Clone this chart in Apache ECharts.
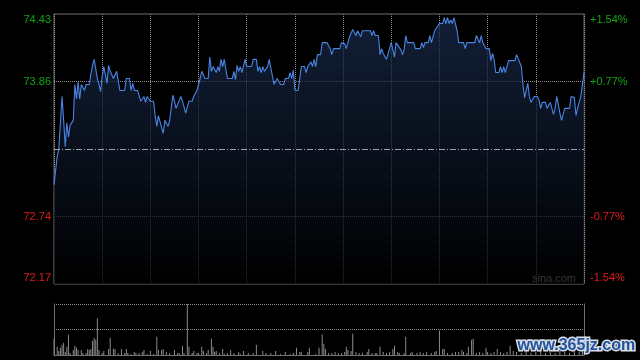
<!DOCTYPE html>
<html>
<head>
<meta charset="utf-8">
<script src="https://cdn.jsdelivr.net/npm/echarts@6/dist/echarts.min.js"></script>
<style>html,body{margin:0;padding:0;background:#000;}#c{width:640px;height:360px;}</style>
</head>
<body>
<div id="c"></div>
<script>
// minute index (0..330, HK session) and price
var priceTimes = [0,2,3,4,5,6,7,8,9,10,11,12,13,14,15,16,17,18,19,20,22,23,24,25,26,27,28,29,30,31,32,33,34,35,36,37,38,39,40,41,44,45,47,48,49,50,52,54,56,57,58,60,62,63,64,65,66,68,69,70,71,72,73,74,75,76,77,79,80,82,84,86,87,88,89,90,91,92,93,94,96,97,98,99,100,101,102,103,104,105,106,108,111,112,113,114,115,116,117,118,119,120,123,124,126,127,128,129,130,131,133,134,135,137,138,139,141,143,144,146,147,148,149,150,152,154,156,157,158,160,161,162,163,164,166,167,170,172,173,174,178,179,181,182,184,185,186,187,188,189,191,192,197,198,199,200,202,203,204,205,207,208,210,211,212,213,214,216,217,218,219,220,224,225,228,229,230,231,233,234,235,236,237,238,240,242,243,244,245,246,247,248,249,251,252,255,256,257,262,263,264,265,266,267,268,269,271,272,273,274,275,277,278,279,280,281,283,287,288,289,291,292,293,294,295,296,297,298,299,301,302,303,304,306,307,308,309,310,311,312,313,314,315,316,317,318,321,322,324,325,326,327,328,330];
var prices = [73.00,73.24,73.30,73.30,73.74,73.54,73.32,73.52,73.40,73.50,73.49,73.54,73.84,73.72,73.86,73.72,73.84,73.84,73.79,73.84,73.84,73.93,74.00,74.05,74.05,73.89,73.84,73.78,73.91,73.99,73.99,73.85,74.00,73.95,73.95,73.89,73.89,73.95,73.95,73.79,73.79,73.89,73.89,73.79,73.85,73.79,73.79,73.70,73.74,73.69,73.74,73.70,73.70,73.58,73.49,73.58,73.59,73.43,73.54,73.54,73.49,73.54,73.55,73.75,73.70,73.64,73.64,73.74,73.70,73.60,73.70,73.70,73.74,73.74,73.79,73.80,73.89,73.95,73.94,73.89,73.89,74.07,73.95,73.99,73.99,73.94,73.99,73.95,74.05,73.99,74.05,73.89,73.89,73.95,73.88,74.00,73.95,73.99,73.94,73.95,74.05,73.99,73.99,74.05,74.05,73.95,73.99,73.94,73.99,73.95,73.99,74.05,73.98,73.84,73.84,73.89,73.84,73.84,73.89,73.89,73.94,73.89,73.96,73.79,73.79,73.99,73.99,73.94,73.99,74.03,73.99,74.05,73.99,74.09,74.09,74.19,74.19,74.14,74.09,74.14,74.14,74.19,74.18,74.14,74.24,74.25,74.30,74.29,74.25,74.29,74.24,74.29,74.29,74.25,74.29,74.25,74.25,74.09,74.14,74.10,74.05,74.05,74.19,74.19,74.07,74.19,74.18,74.13,74.09,74.13,74.25,74.19,74.19,74.14,74.14,74.19,74.15,74.19,74.19,74.25,74.19,74.24,74.29,74.29,74.35,74.35,74.40,74.35,74.40,74.35,74.38,74.35,74.40,74.29,74.19,74.19,74.14,74.19,74.19,74.25,74.25,74.19,74.25,74.19,74.19,74.14,74.14,74.04,74.10,74.05,73.94,73.94,73.99,73.94,73.99,73.94,74.04,74.04,74.09,74.09,73.99,73.84,73.73,73.79,73.85,73.74,73.69,73.69,73.74,73.74,73.71,73.64,73.69,73.69,73.64,73.64,73.69,73.64,73.59,73.64,73.74,73.74,73.60,73.54,73.59,73.64,73.64,73.74,73.73,73.58,73.64,73.64,73.74,73.94];
var preClose = 73.30;
var priceMin = 72.17, priceMax = 74.43;

var volTimes = [0,2,3,4,5,6,7,8,9,10,12,13,14,15,17,18,20,21,22,23,24,25,26,27,28,30,31,34,35,37,38,40,42,44,45,46,48,50,51,53,55,56,58,60,62,64,65,67,68,70,72,75,77,78,80,81,83,84,86,87,89,90,92,93,95,96,98,99,100,101,103,105,106,108,110,112,115,116,118,121,124,126,130,132,135,138,141,144,147,149,151,153,154,158,159,163,165,167,168,169,171,173,175,177,179,181,182,183,185,186,188,190,192,195,196,198,200,201,203,205,207,209,211,212,214,215,218,219,222,223,226,228,230,232,235,237,238,240,242,243,245,248,250,252,254,255,257,258,260,261,263,265,267,269,270,272,274,276,278,280,282,284,286,288,291,294,297,300,303,306,309,312,315,318,321,324,327,329];
var volumes = [16,8,4,7,10,12,3,8,20,2,5,9,7,5,5,2,2,6,5,6,14,17,15,36,5,2,4,6,17,6,6,2,6,2,6,2,1,3,2,2,3,5,1,4,1,18,5,5,6,3,2,5,2,2,9,2,50,8,2,4,2,2,8,4,2,5,16,8,3,4,2,6,1,2,5,2,3,1,4,2,2,10,4,2,2,4,1,3,1,2,7,3,3,3,7,1,7,20,11,6,2,2,3,2,2,3,8,5,4,21,3,2,2,3,6,2,2,2,8,3,2,3,6,9,3,2,2,18,2,3,2,3,2,3,2,3,4,24,6,6,2,2,3,3,5,3,2,8,15,16,2,3,2,7,3,2,3,6,3,2,3,9,4,3,2,4,2,3,5,2,3,2,4,3,2,5,3,6];
var volMax = 50;

var leftLabels = ['72.17','72.74','','73.86','74.43'];
var rightLabels = ['-1.54%','-0.77%','','+0.77%','+1.54%'];

var GREEN = '#12a512', RED = '#e31a1a', GRID = '#8e8e8e', BORDER = '#707070';

function labelFmt(arr) {
  return function (v) {
    var i = Math.round(v);
    var s = arr[i];
    if (!s) return '';
    var style = i < 2 ? (i === 0 ? 'rb' : 'r') : (i === 4 ? 'gt' : 'g');
    return '{' + style + '|' + s + '}';
  };
}
var richStyles = {
  g: {color: GREEN, fontSize: 11, fontFamily: 'Liberation Sans'},
  r: {color: RED, fontSize: 11, fontFamily: 'Liberation Sans'},
  gt: {color: GREEN, fontSize: 11, fontFamily: 'Liberation Sans', padding: [12, 0, 0, 0]},
  rb: {color: RED, fontSize: 11, fontFamily: 'Liberation Sans', padding: [0, 0, 12, 0]}
};
var splitColors = ['rgba(0,0,0,0)', GRID, 'rgba(0,0,0,0)', GRID, 'rgba(0,0,0,0)'];

var chart = echarts.init(document.getElementById('c'), null, {renderer: 'canvas'});
chart.setOption({
  backgroundColor: '#000',
  animation: false,
  grid: [
    {left: 54, right: 56, top: 14, height: 270, show: true, borderColor: BORDER, borderWidth: 1, backgroundColor: 'transparent'},
    {left: 54, right: 56, top: 304, height: 51}
  ],
  xAxis: [
    {type: 'value', gridIndex: 0, min: 0, max: 330, interval: 30,
      axisLine: {show: false}, axisTick: {show: false}, axisLabel: {show: false},
      splitLine: {show: true, lineStyle: {color: GRID, type: [1, 1], width: 1}}},
    {type: 'value', gridIndex: 1, min: 0, max: 330, interval: 30,
      axisLine: {show: true, lineStyle: {color: BORDER}}, axisTick: {show: false}, axisLabel: {show: false},
      splitLine: {show: false}}
  ],
  yAxis: [
    {type: 'value', gridIndex: 0, min: priceMin, max: priceMax, show: false},
    {type: 'value', gridIndex: 0, min: 0, max: 4, interval: 1, position: 'left',
      axisLine: {show: false}, axisTick: {show: false},
      axisLabel: {show: true, margin: 3, formatter: labelFmt(leftLabels), rich: richStyles},
      splitLine: {show: true, lineStyle: {color: splitColors, type: [1, 1], width: 1}}},
    {type: 'value', gridIndex: 0, min: 0, max: 4, interval: 1, position: 'right',
      axisLine: {show: false}, axisTick: {show: false},
      axisLabel: {show: true, margin: 6, formatter: labelFmt(rightLabels), rich: richStyles},
      splitLine: {show: false}},
    {type: 'value', gridIndex: 1, min: 0, max: volMax, interval: volMax / 2, position: 'left',
      axisLine: {show: true, lineStyle: {color: BORDER}}, axisTick: {show: false}, axisLabel: {show: false},
      splitLine: {show: true, lineStyle: {color: GRID, type: [1, 1], width: 1}}},
    {type: 'value', gridIndex: 1, min: 0, max: volMax, interval: volMax / 2, position: 'right',
      axisLine: {show: true, lineStyle: {color: BORDER}}, axisTick: {show: false}, axisLabel: {show: false},
      splitLine: {show: false}}
  ],
  series: [
    {type: 'line', xAxisIndex: 0, yAxisIndex: 0,
      data: priceTimes.map(function (t, i) { return [t, prices[i]]; }),
      showSymbol: false, symbol: 'none',
      lineStyle: {color: '#4a84e4', width: 1.1},
      areaStyle: {origin: 'start', color: new echarts.graphic.LinearGradient(0, 0, 0, 1, [
        {offset: 0, color: 'rgba(26,44,78,1)'},
        {offset: 1, color: 'rgba(0,0,0,1)'}
      ])},
      markLine: {silent: true, symbol: 'none', label: {show: false},
        lineStyle: {color: '#9aa3b2', type: [6, 2, 1, 2], width: 1},
        data: [{yAxis: preClose}]},
      z: 3},
    {type: 'bar', xAxisIndex: 1, yAxisIndex: 3, barWidth: 1,
      data: volTimes.map(function (t, i) { return [t, volumes[i]]; }),
      itemStyle: {color: '#8a8a8a'}}
  ],
  graphic: [
    {type: 'text', left: 532, top: 273, style: {text: 'sina.com', fill: '#a8a8a8', font: '11px "Liberation Sans"'}},
    {type: 'text', left: 516, top: 336, style: {text: 'www.365jz.com', fill: '#23539f', stroke: '#d8dde6', lineWidth: 3, font: 'bold 16px "Liberation Sans"'}, z: 100}
  ]
});
</script>
</body>
</html>
